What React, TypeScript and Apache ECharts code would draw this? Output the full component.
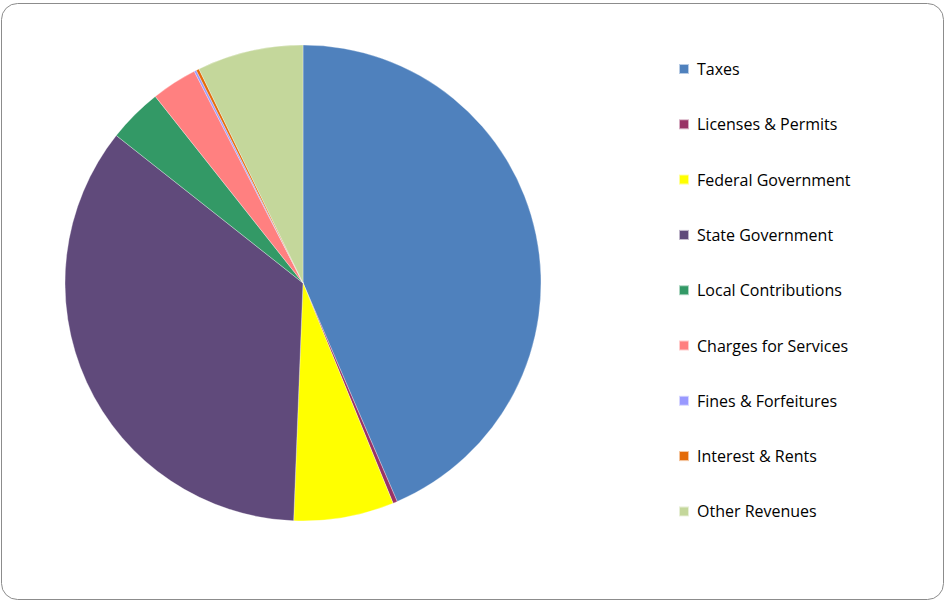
import React, { useEffect, useRef } from "react";
import * as echarts from "echarts";

const categories = [
  "Taxes",
  "Licenses & Permits",
  "Federal Government",
  "State Government",
  "Local Contributions",
  "Charges for Services",
  "Fines & Forfeitures",
  "Interest & Rents",
  "Other Revenues",
];
const values = [43.5, 0.3, 6.8, 35.0, 3.7, 3.1, 0.15, 0.2, 7.2];
const colors = [
  "#4F81BD",
  "#993366",
  "#FFFF00",
  "#604A7B",
  "#339966",
  "#FF8080",
  "#9999FF",
  "#E46C0A",
  "#C4D79B",
];

export default function App() {
  const ref = useRef<HTMLDivElement>(null);
  useEffect(() => {
    if (!ref.current) return;
    const chart = echarts.init(ref.current, undefined, { renderer: "svg" });
    chart.setOption({
      animation: false,
      backgroundColor: "#ffffff",
      color: colors,
      graphic: [
        {
          type: "rect",
          shape: { x: 1.5, y: 3.5, width: 942, height: 596, r: 16 },
          style: { fill: "none", stroke: "#8c8c8c", lineWidth: 1 },
          silent: true,
        },
      ],
      legend: {
        orient: "vertical",
        left: 673,
        top: 56,
        itemWidth: 10,
        itemHeight: 10,
        itemGap: 39.3,
        icon: "rect",
        textStyle: {
          fontFamily: "Open Sans",
          fontSize: 16,
          lineHeight: 16,
          color: "#000000",
          padding: [0, 0, 0, 3],
        },
        data: categories,
      },
      series: [
        {
          type: "pie",
          center: [303, 283],
          radius: [0, 238],
          startAngle: 90,
          clockwise: true,
          label: { show: false },
          labelLine: { show: false },
          itemStyle: { borderColor: "rgba(255,255,255,0.6)", borderWidth: 0.5 },
          emphasis: { disabled: true },
          data: categories.map((name, i) => ({ name, value: values[i] })),
        },
      ],
    });
    return () => chart.dispose();
  }, []);
  return (
    <div
      ref={ref}
      style={{ position: "fixed", left: 0, top: 0, width: 945, height: 602 }}
    />
  );
}
